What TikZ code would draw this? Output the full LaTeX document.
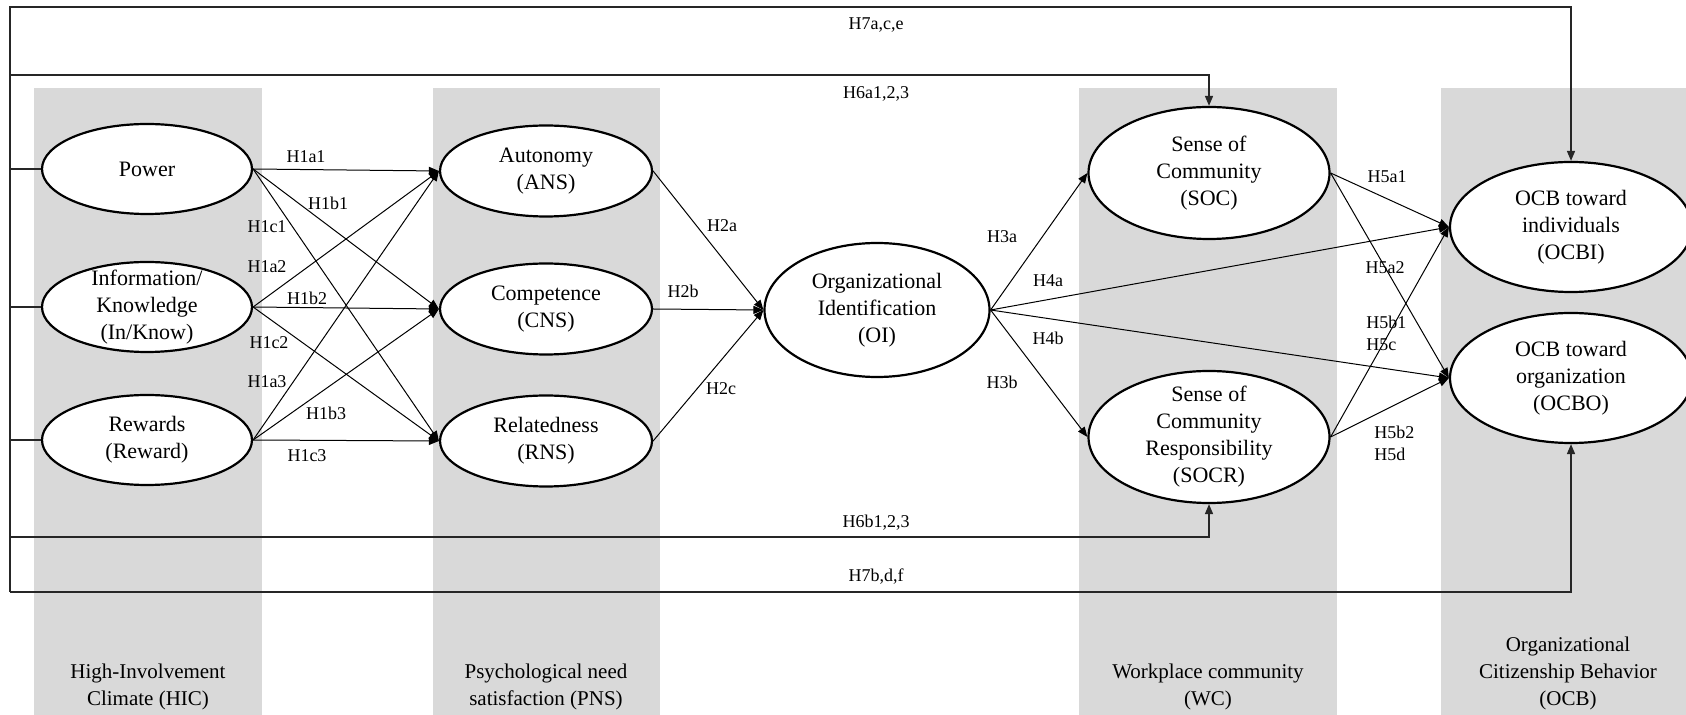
\documentclass[tikz,border=0pt]{standalone}
\usepackage{fontspec}
\setmainfont{Liberation Serif}
\usetikzlibrary{shapes.geometric,arrows.meta}
\definecolor{bandgray}{RGB}{217,217,217}
\begin{document}
\begin{tikzpicture}[x=0.5pt,y=-0.5pt,
  band/.style={fill=bandgray,draw=none},
  ell/.style={ellipse,draw,line width=1.1pt,fill=white,inner sep=0pt},
  etxt/.style={align=center,inner sep=0pt,font=\fontsize{11}{13.5}\selectfont},
  hlab/.style={inner sep=0pt,font=\fontsize{9}{11}\selectfont},
  hlabl/.style={hlab,align=left,anchor=west},
  glab/.style={align=center,inner sep=0pt,font=\fontsize{10.5}{13.5}\selectfont},
  conn/.style={line width=0.5pt,-{Triangle[length=5pt,width=4pt]}},
  frame/.style={line width=0.75pt,draw=black!85},
  fconn/.style={frame,-{Triangle[length=5pt,width=4pt]}},
]
\useasboundingbox (0,0) rectangle (1686,715);

% construct columns
\fill[band] (34,88) rectangle (262,715);
\fill[band] (433,88) rectangle (660,715);
\fill[band] (1079,88) rectangle (1337,715);
\fill[band] (1441,88) rectangle (1686,715);

% high-involvement climate
\node[ell,minimum width=105pt,minimum height=45pt] (pow) at (147,169) {};
\node[etxt] (powT) at (pow) {Power};
\node[ell,minimum width=105pt,minimum height=45pt] (inf) at (147,307) {};
\node[etxt] (infT) at (inf) {Information/\\Knowledge\\(In/Know)};
\node[ell,minimum width=105pt,minimum height=45pt] (rew) at (147,440) {};
\node[etxt] (rewT) at (rew) {Rewards\\(Reward)};

% psychological need satisfaction
\node[ell,minimum width=106pt,minimum height=45.5pt] (ans) at (546,171) {};
\node[etxt] (ansT) at (ans) {Autonomy\\(ANS)};
\node[ell,minimum width=106pt,minimum height=45.5pt] (cns) at (546,309) {};
\node[etxt] (cnsT) at (cns) {Competence\\(CNS)};
\node[ell,minimum width=106pt,minimum height=45.5pt] (rns) at (546,441) {};
\node[etxt] (rnsT) at (rns) {Relatedness\\(RNS)};

% organizational identification
\node[ell,minimum width=112.5pt,minimum height=67pt] (oi) at (877,310) {};
\node[etxt] (oiT) at (oi) {Organizational\\Identification\\(OI)};

% workplace community
\node[ell,minimum width=120.5pt,minimum height=66pt] (soc) at (1209,173) {};
\node[etxt] (socT) at (soc) {Sense of\\Community\\(SOC)};
\node[ell,minimum width=120.5pt,minimum height=66pt] (socr) at (1209,437) {};
\node[etxt] (socrT) at (socr) {Sense of\\Community\\Responsibility\\(SOCR)};

% organizational citizenship behavior
\node[ell,minimum width=121pt,minimum height=65pt] (ocbi) at (1571,227) {};
\node[etxt] (ocbiT) at (ocbi) {OCB toward\\individuals\\(OCBI)};
\node[ell,minimum width=121pt,minimum height=65pt] (ocbo) at (1571,378) {};
\node[etxt] (ocboT) at (ocbo) {OCB toward\\organization\\(OCBO)};

% H1: climate -> need satisfaction
\foreach \s in {pow,inf,rew}
  \foreach \t in {ans,cns,rns}
    \draw[conn] (\s.east) -- (\t.west);
% H2
\foreach \s in {ans,cns,rns}
  \draw[conn] (\s.east) -- (oi.west);
% H3, H4
\draw[conn] (oi.east) -- (soc.west);
\draw[conn] (oi.east) -- (socr.west);
\draw[conn] (oi.east) -- (ocbi.west);
\draw[conn] (oi.east) -- (ocbo.west);
% H5
\draw[conn] (soc.east) -- (ocbi.west);
\draw[conn] (soc.east) -- (ocbo.west);
\draw[conn] (socr.east) -- (ocbi.west);
\draw[conn] (socr.east) -- (ocbo.west);

% outer paths H6, H7
\coordinate (tl) at (10,7);
\coordinate (bl) at (10,592);
\coordinate (h6a) at (10,75);
\coordinate (h6b) at (10,537);
\draw[fconn] (bl) -- (tl) -| (ocbi.north);
\draw[fconn] (h6a) -| (soc.north);
\draw[fconn] (h6b) -| (socr.south);
\draw[fconn] (bl) -| (ocbo.south);
\draw[frame] (pow.west -| tl) -- (pow.west);
\draw[frame] (inf.west -| tl) -- (inf.west);
\draw[frame] (rew.west -| tl) -- (rew.west);

% hypothesis labels
\node[hlab] (l1a1) at (306,157) {H1a1};
\node[hlab] (l1b1) at (328,203) {H1b1};
\node[hlab] (l1c1) at (267,227) {H1c1};
\node[hlab] (l1a2) at (267,267) {H1a2};
\node[hlab] (l1b2) at (307,298) {H1b2};
\node[hlab] (l1c2) at (269,343) {H1c2};
\node[hlab] (l1a3) at (267,382) {H1a3};
\node[hlab] (l1b3) at (326,413) {H1b3};
\node[hlab] (l1c3) at (307,456) {H1c3};
\node[hlab] (l2a) at (722,226) {H2a};
\node[hlab] (l2b) at (683,291) {H2b};
\node[hlab] (l2c) at (721,389) {H2c};
\node[hlab] (l3a) at (1002,237) {H3a};
\node[hlab] (l4a) at (1048,281) {H4a};
\node[hlab] (l4b) at (1048,338) {H4b};
\node[hlab] (l3b) at (1002,382) {H3b};
\node[hlab] (l5a1) at (1387,177) {H5a1};
\node[hlab] (l5a2) at (1385,268) {H5a2};
\node[hlabl] (l5b1) at (1366,333) {H5b1\\H5c};
\node[hlabl] (l5b2) at (1374,443) {H5b2\\H5d};
\node[hlab] (l7a) at (876,25) {H7a,c,e};
\node[hlab] (l6a) at (876,94) {H6a1,2,3};
\node[hlab] (l6b) at (876,523) {H6b1,2,3};
\node[hlab] (l7b) at (876,577) {H7b,d,f};

% column captions
\node[glab] (gHIC) at (148,687) {High-Involvement\\Climate (HIC)};
\node[glab] (gPNS) at (546,687) {Psychological need\\satisfaction (PNS)};
\node[glab] (gWC) at (1208,687) {Workplace community\\(WC)};
\node[glab] (gOCB) at (1568,673) {Organizational\\Citizenship Behavior\\(OCB)};
\end{tikzpicture}
\end{document}
